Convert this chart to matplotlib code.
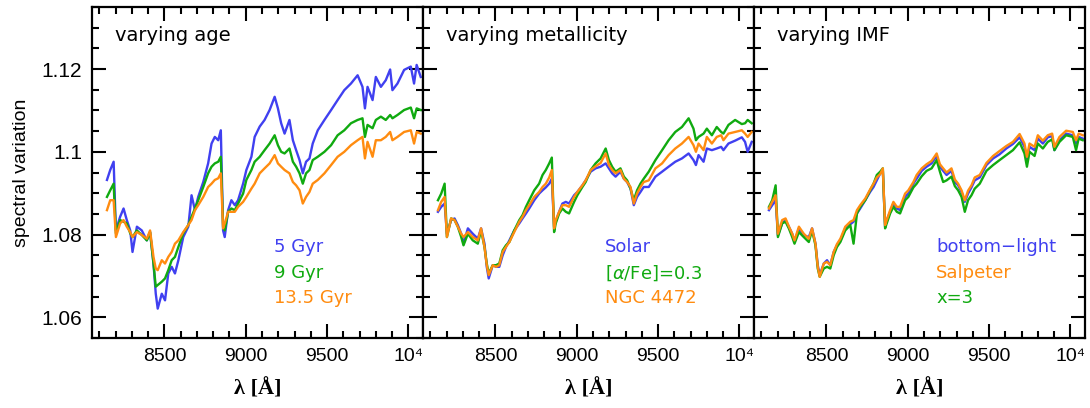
import numpy as np
import matplotlib
matplotlib.use('Agg')
import matplotlib.pyplot as plt
from matplotlib.ticker import MultipleLocator

# ****************************** Data ******************************
wave = [8147, 8167, 8188, 8202, 8228, 8249, 8269, 8290, 8304, 8331,
        8361, 8392, 8412, 8433, 8447, 8459, 8484, 8504, 8524, 8545,
        8565, 8586, 8616, 8647, 8667, 8688, 8708, 8739, 8769, 8790,
        8810, 8831, 8847, 8861, 8871, 8892, 8912, 8933, 8953, 8984,
        9004, 9035, 9055, 9086, 9116, 9147, 9178, 9198, 9218, 9239,
        9269, 9290, 9310, 9331, 9351, 9371, 9392, 9412, 9443, 9484,
        9525, 9565, 9606, 9647, 9688, 9718, 9733, 9749, 9780, 9800,
        9831, 9861, 9888, 9902, 9933, 9974, 10015, 10035, 10051, 10076]

# varying age
age_5 = [1.0932, 1.0956, 1.0976, 1.0810, 1.0843, 1.0863, 1.0835, 1.0810, 1.0758, 1.0819,
         1.0810, 1.0786, 1.0806, 1.0730, 1.0657, 1.0621, 1.0657, 1.0641, 1.0706, 1.0722,
         1.0706, 1.0738, 1.0794, 1.0819, 1.0895, 1.0859, 1.0891, 1.0927, 1.0972, 1.1020,
         1.1036, 1.1028, 1.1052, 1.0810, 1.0794, 1.0859, 1.0883, 1.0871, 1.0883, 1.0923,
         1.0956, 1.0988, 1.1036, 1.1061, 1.1077, 1.1101, 1.1133, 1.1105, 1.1069, 1.1044,
         1.1077, 1.1028, 1.1004, 1.0980, 1.0948, 1.0976, 1.0984, 1.1020, 1.1052, 1.1077,
         1.1101, 1.1125, 1.1149, 1.1165, 1.1185, 1.1157, 1.1105, 1.1157, 1.1125, 1.1181,
         1.1157, 1.1173, 1.1199, 1.1149, 1.1165, 1.1198, 1.1206, 1.1165, 1.1210, 1.1181]
age_9 = [1.0891, 1.0907, 1.0923, 1.0803, 1.0835, 1.0831, 1.0827, 1.0803, 1.0794, 1.0810,
         1.0799, 1.0786, 1.0806, 1.0730, 1.0674, 1.0678, 1.0686, 1.0694, 1.0714, 1.0738,
         1.0746, 1.0770, 1.0803, 1.0823, 1.0843, 1.0863, 1.0883, 1.0915, 1.0948, 1.0964,
         1.0972, 1.0976, 1.0988, 1.0819, 1.0810, 1.0855, 1.0863, 1.0859, 1.0875, 1.0899,
         1.0932, 1.0956, 1.0976, 1.0988, 1.1004, 1.1020, 1.1040, 1.1016, 1.1000, 1.0996,
         1.1008, 1.0976, 1.0964, 1.0948, 1.0923, 1.0948, 1.0956, 1.0980, 1.0988, 1.1000,
         1.1016, 1.1040, 1.1052, 1.1069, 1.1077, 1.1081, 1.1036, 1.1065, 1.1057, 1.1077,
         1.1085, 1.1077, 1.1089, 1.1081, 1.1089, 1.1101, 1.1107, 1.1081, 1.1105, 1.1101]
age_135 = [1.0859, 1.0883, 1.0883, 1.0794, 1.0827, 1.0835, 1.0819, 1.0806, 1.0794, 1.0806,
           1.0799, 1.0790, 1.0810, 1.0746, 1.0718, 1.0714, 1.0738, 1.0730, 1.0746, 1.0758,
           1.0778, 1.0786, 1.0806, 1.0823, 1.0835, 1.0859, 1.0871, 1.0891, 1.0915, 1.0923,
           1.0932, 1.0936, 1.0948, 1.0815, 1.0827, 1.0855, 1.0855, 1.0855, 1.0867, 1.0879,
           1.0891, 1.0911, 1.0923, 1.0948, 1.0960, 1.0972, 1.0992, 1.0972, 1.0964, 1.0956,
           1.0948, 1.0927, 1.0919, 1.0907, 1.0875, 1.0891, 1.0903, 1.0923, 1.0932, 1.0948,
           1.0968, 1.0988, 1.1000, 1.1016, 1.1028, 1.1036, 1.0984, 1.1024, 1.0988, 1.1028,
           1.1028, 1.1036, 1.1048, 1.1028, 1.1036, 1.1048, 1.1052, 1.1020, 1.1048, 1.1044]

# varying metallicity
met_solar = [1.0855, 1.0867, 1.0875, 1.0802, 1.0835, 1.0839, 1.0823, 1.0802, 1.0778, 1.0815,
             1.0802, 1.0790, 1.0815, 1.0778, 1.0722, 1.0694, 1.0726, 1.0722, 1.0722, 1.0750,
             1.0770, 1.0786, 1.0810, 1.0827, 1.0839, 1.0851, 1.0863, 1.0883, 1.0899, 1.0907,
             1.0914, 1.0923, 1.0935, 1.0819, 1.0831, 1.0855, 1.0875, 1.0879, 1.0875, 1.0895,
             1.0903, 1.0919, 1.0931, 1.0952, 1.0960, 1.0964, 1.0972, 1.0960, 1.0948, 1.0940,
             1.0952, 1.0935, 1.0927, 1.0911, 1.0871, 1.0891, 1.0903, 1.0915, 1.0915, 1.0940,
             1.0952, 1.0964, 1.0976, 1.0984, 1.0996, 1.0980, 1.0968, 1.0992, 1.0976, 1.1008,
             1.1004, 1.1008, 1.1012, 1.1004, 1.1020, 1.1027, 1.1035, 1.1024, 1.1000, 1.1024]
met_alpha = [1.0883, 1.0899, 1.0923, 1.0794, 1.0839, 1.0835, 1.0819, 1.0794, 1.0774, 1.0802,
             1.0786, 1.0778, 1.0810, 1.0770, 1.0730, 1.0706, 1.0726, 1.0726, 1.0730, 1.0762,
             1.0774, 1.0782, 1.0810, 1.0835, 1.0847, 1.0867, 1.0883, 1.0907, 1.0923, 1.0944,
             1.0956, 1.0972, 1.0986, 1.0806, 1.0827, 1.0851, 1.0863, 1.0855, 1.0851, 1.0879,
             1.0895, 1.0915, 1.0927, 1.0956, 1.0972, 1.0984, 1.1008, 1.0980, 1.0964, 1.0952,
             1.0960, 1.0940, 1.0931, 1.0911, 1.0883, 1.0907, 1.0923, 1.0935, 1.0952, 1.0980,
             1.1004, 1.1028, 1.1048, 1.1060, 1.1081, 1.1056, 1.1028, 1.1036, 1.1044, 1.1056,
             1.1040, 1.1060, 1.1048, 1.1044, 1.1065, 1.1077, 1.1067, 1.1069, 1.1077, 1.1069]
met_ngc = [1.0859, 1.0879, 1.0891, 1.0794, 1.0839, 1.0835, 1.0819, 1.0802, 1.0794, 1.0806,
           1.0794, 1.0786, 1.0815, 1.0770, 1.0726, 1.0702, 1.0726, 1.0722, 1.0726, 1.0758,
           1.0770, 1.0782, 1.0806, 1.0831, 1.0843, 1.0859, 1.0871, 1.0891, 1.0903, 1.0915,
           1.0923, 1.0938, 1.0956, 1.0815, 1.0835, 1.0855, 1.0871, 1.0871, 1.0867, 1.0891,
           1.0903, 1.0919, 1.0931, 1.0956, 1.0965, 1.0973, 1.0996, 1.0968, 1.0956, 1.0948,
           1.0956, 1.0935, 1.0927, 1.0915, 1.0875, 1.0899, 1.0915, 1.0927, 1.0931, 1.0960,
           1.0972, 1.0992, 1.1008, 1.1020, 1.1036, 1.1016, 1.1000, 1.1020, 1.1004, 1.1036,
           1.1020, 1.1036, 1.1040, 1.1028, 1.1044, 1.1048, 1.1052, 1.1044, 1.1036, 1.1048]

# varying IMF
imf_bl = [1.0859, 1.0871, 1.0883, 1.0798, 1.0827, 1.0835, 1.0819, 1.0802, 1.0782, 1.0815,
          1.0798, 1.0794, 1.0815, 1.0778, 1.0726, 1.0702, 1.0730, 1.0738, 1.0726, 1.0758,
          1.0774, 1.0786, 1.0815, 1.0825, 1.0831, 1.0851, 1.0863, 1.0883, 1.0903, 1.0915,
          1.0931, 1.0948, 1.0956, 1.0819, 1.0835, 1.0855, 1.0875, 1.0863, 1.0859, 1.0891,
          1.0899, 1.0923, 1.0935, 1.0954, 1.0964, 1.0972, 1.0990, 1.0964, 1.0954, 1.0944,
          1.0954, 1.0927, 1.0919, 1.0903, 1.0879, 1.0899, 1.0914, 1.0931, 1.0938, 1.0968,
          1.0984, 1.0994, 1.1008, 1.1019, 1.1035, 1.1012, 1.0976, 1.1012, 1.1004, 1.1032,
          1.1020, 1.1035, 1.1038, 1.1004, 1.1028, 1.1044, 1.1040, 1.1020, 1.1036, 1.1032]
imf_salp = [1.0863, 1.0879, 1.0895, 1.0802, 1.0835, 1.0839, 1.0820, 1.0802, 1.0786, 1.0819,
            1.0802, 1.0790, 1.0815, 1.0778, 1.0722, 1.0698, 1.0730, 1.0734, 1.0726, 1.0758,
            1.0777, 1.0790, 1.0819, 1.0831, 1.0835, 1.0859, 1.0871, 1.0887, 1.0909, 1.0923,
            1.0938, 1.0946, 1.0960, 1.0823, 1.0835, 1.0859, 1.0879, 1.0867, 1.0867, 1.0899,
            1.0907, 1.0927, 1.0944, 1.0960, 1.0970, 1.0978, 1.0996, 1.0970, 1.0960, 1.0950,
            1.0960, 1.0933, 1.0923, 1.0907, 1.0883, 1.0906, 1.0919, 1.0938, 1.0944, 1.0973,
            1.0990, 1.1002, 1.1014, 1.1024, 1.1043, 1.1020, 1.0988, 1.1020, 1.1012, 1.1040,
            1.1027, 1.1040, 1.1044, 1.1012, 1.1036, 1.1051, 1.1048, 1.1028, 1.1044, 1.1040]
imf_x3 = [1.0867, 1.0883, 1.0919, 1.0794, 1.0827, 1.0831, 1.0815, 1.0794, 1.0778, 1.0806,
          1.0794, 1.0782, 1.0810, 1.0774, 1.0718, 1.0698, 1.0718, 1.0722, 1.0718, 1.0750,
          1.0770, 1.0782, 1.0810, 1.0823, 1.0778, 1.0851, 1.0867, 1.0883, 1.0907, 1.0923,
          1.0944, 1.0952, 1.0960, 1.0815, 1.0827, 1.0851, 1.0867, 1.0855, 1.0851, 1.0883,
          1.0891, 1.0914, 1.0923, 1.0941, 1.0954, 1.0960, 1.0980, 1.0952, 1.0927, 1.0931,
          1.0940, 1.0917, 1.0907, 1.0891, 1.0855, 1.0883, 1.0895, 1.0911, 1.0923, 1.0954,
          1.0968, 1.0980, 1.0992, 1.1004, 1.1023, 1.0996, 1.0964, 1.1000, 1.0990, 1.1020,
          1.1008, 1.1024, 1.1030, 1.1004, 1.1024, 1.1040, 1.1036, 1.1004, 1.1032, 1.1028]

xtick_vals = [8500, 9000, 9500, 10000]
xtick_labels = ['8500', '9000', '9500', '10\u2074']
ytick_vals = [1.06, 1.08, 1.1, 1.12]
ytick_labels = ['1.06', '1.08', '1.1', '1.12']

blue = '#4040f0'
green = '#10aa10'
orange = '#ff8c10'

panels = [
    ('varying age', [(age_5, blue, '5 Gyr'), (age_9, green, '9 Gyr'), (age_135, orange, '13.5 Gyr')]),
    ('varying metallicity', [(met_solar, blue, 'Solar'), (met_alpha, green, r'[$\alpha$/Fe]=0.3'),
                             (met_ngc, orange, 'NGC 4472')]),
    ('varying IMF', [(imf_bl, blue, 'bottom\u2212light'), (imf_x3, green, 'x=3'), (imf_salp, orange, 'Salpeter')]),
]
# order of the coloured labels inside each panel
label_order = [[0, 1, 2], [0, 1, 2], [0, 2, 1]]

# ****************************** Plotting ******************************
plt.rcParams['mathtext.fontset'] = 'custom'
plt.rcParams['mathtext.rm'] = 'DejaVu Sans'
plt.rcParams['mathtext.it'] = 'DejaVu Sans:italic'

tick_font = ['Liberation Sans', 'DejaVu Sans']

fig = plt.figure(figsize=(10.9, 4.08), dpi=100)
lefts = [92, 423, 754]
for k, (title, series) in enumerate(panels):
    ax = fig.add_axes([lefts[k] / 1090, 1 - 338 / 408, 331 / 1090, 331 / 408])
    for vals, col, lab in series:
        ax.plot(wave, vals, color=col, lw=1.7)
    ax.set_xlim(8055, 10090)
    ax.set_ylim(1.055, 1.135)
    ax.xaxis.set_minor_locator(MultipleLocator(100))
    ax.yaxis.set_minor_locator(MultipleLocator(0.005))
    ax.set_xticks(xtick_vals)
    ax.set_xticklabels(xtick_labels, family=tick_font, fontsize=14)
    ax.set_yticks(ytick_vals)
    if k == 0:
        ax.set_yticklabels(ytick_labels, family=tick_font, fontsize=15)
        ax.set_ylabel('spectral variation', fontsize=14, family='Liberation Sans', labelpad=8)
    else:
        ax.set_yticklabels([])
    ax.tick_params(which='both', direction='in', top=True, right=True, width=1.5)
    ax.tick_params(which='major', length=10, pad=7)
    ax.tick_params(which='minor', length=5)
    for s in ax.spines.values():
        s.set_linewidth(1.6)
    ax.set_xlabel('λ [Å]', fontsize=16, family='Liberation Serif', fontweight='bold', labelpad=10)
    ax.text(0.07, 0.915, title, transform=ax.transAxes, fontsize=14, va='center')
    ys = [0.275, 0.196, 0.121]
    for j, idx in enumerate(label_order[k]):
        vals, col, lab = series[idx]
        ax.text(0.55, ys[j], lab, color=col, transform=ax.transAxes, fontsize=13, va='center')

plt.savefig('out.png', dpi=100)
